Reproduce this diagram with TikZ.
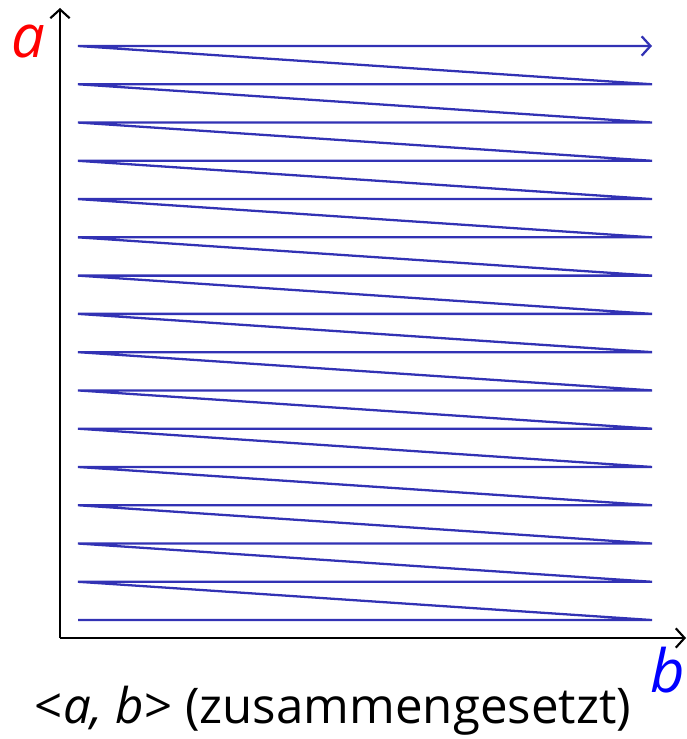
\documentclass[tikz,border=0pt]{standalone}
\usepackage{fontspec}
\setmainfont{Open Sans}
\usetikzlibrary{arrows.meta}
\definecolor{zigblue}{RGB}{50,50,180}
\definecolor{labred}{RGB}{255,0,0}
\definecolor{labblue}{RGB}{0,0,255}
\tikzset{
  axis/.style={line width=1.2pt, -{Straight Barb[length=5pt,width=11pt]}},
  zigline/.style={draw=zigblue, line width=1.3pt, line join=miter,
                  -{Straight Barb[length=5pt,width=11pt]}},
  axlabel/.style={font=\fontsize{34}{40}\selectfont\itshape}
}

\begin{document}
\begin{tikzpicture}[x=0.02cm,y=-0.02cm]
  \useasboundingbox (0,0) rectangle (686,739);
  % axes
  \coordinate (origin) at (60,638);
  \coordinate (atop) at (60,8);
  \coordinate (bend) at (686,638);
  \draw[axis] (origin) -- (atop);
  \draw[axis] (origin) -- (bend);
  \node[axlabel, text=labred] (alab) at (28,42) {a};
  \node[axlabel, text=labblue] (blab) at (668,670) {b};
  % zigzag
  \draw[zigline] (78,{46+38.27*15})
    \foreach \k in {15,...,1}{ -- (652,{46+38.27*\k}) -- (78,{46+38.27*(\k-1)}) }
    -- (652,46);
  % caption
  \node[font=\fontsize{28}{32}\selectfont] (cap) at (333,711)
    {<\textit{a,} \textit{b}> (zusammengesetzt)};
\end{tikzpicture}
\end{document}
